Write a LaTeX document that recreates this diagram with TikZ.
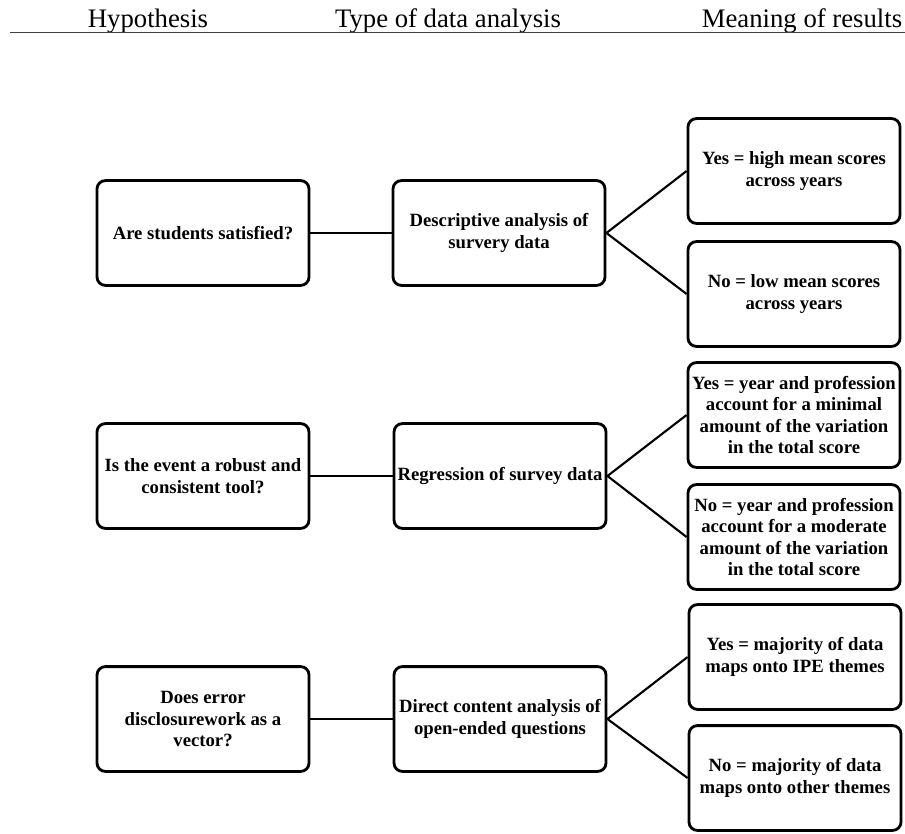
\documentclass[tikz,border=0pt]{standalone}
\usepackage{fontspec}
\setmainfont{Liberation Serif}
\usetikzlibrary{positioning}

\begin{document}
\begin{tikzpicture}[x=0.025cm, y=-0.025cm,
    box/.style={draw, line width=2pt, rounded corners=6pt, minimum width=5.3cm, minimum height=2.62cm,
      align=center, inner sep=2pt, font=\bfseries\fontsize{13.3}{15.2}\selectfont},
    link/.style={line width=1.5pt},
    head/.style={anchor=base, inner sep=0pt, font=\fontsize{19}{22}\selectfont}]

        \useasboundingbox (0,0) rectangle (905,833);

        %
        \node[head] (HH) at (148,28) {Hypothesis};
        \node[head] (HT) at (448,28) {Type of data analysis};
        \node[head] (HM) at (802,28) {Meaning of results};
        \coordinate (L0) at (10,32);
        \coordinate (L1) at (905,32);
        \draw[line width=0.6pt, black!75] (L0) -- (L1);

        %
        \node[box] (H1) at (203,233) {Are students satisfied?};
        \node[box] (D1) at (499,233) {Descriptive analysis of\\ survery data};
        \node[box] (Y1) at (794,171) {Yes = high mean scores\\ across years};
        \node[box] (N1) at (794,294) {No = low mean scores\\ across years};

        %
        \node[box] (H2) at (203,476) {Is the event a robust and\\ consistent tool?};
        \node[box] (D2) at (500,476) {Regression of survey data};
        \node[box] (Y2) at (794,415) {Yes = year and profession\\ account for a minimal\\ amount of the variation\\ in the total score};
        \node[box] (N2) at (794,537) {No = year and profession\\ account for a moderate\\ amount of the variation\\ in the total score};

        %
        \node[box] (H3) at (203,719) {Does error\\ disclosurework as a\\ vector?};
        \node[box] (D3) at (500,719) {Direct content analysis of\\ open-ended questions};
        \node[box] (Y3) at (795,657) {Yes = majority of data\\ maps onto IPE themes};
        \node[box] (N3) at (795,778) {No = majority of data\\ maps onto other themes};

        %
        \draw[link] (H1) -- (D1);
        \draw[link] (D1.east) -- (Y1.west);
        \draw[link] (D1.east) -- (N1.west);

        \draw[link] (H2) -- (D2);
        \draw[link] (D2.east) -- (Y2.west);
        \draw[link] (D2.east) -- (N2.west);

        \draw[link] (H3) -- (D3);
        \draw[link] (D3.east) -- (Y3.west);
        \draw[link] (D3.east) -- (N3.west);

    \end{tikzpicture}
\end{document}
